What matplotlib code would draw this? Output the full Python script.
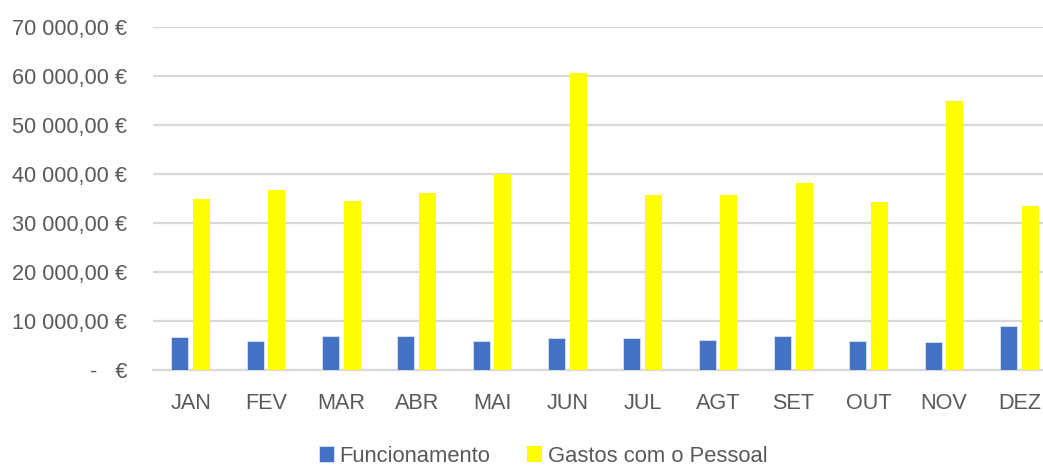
import matplotlib
matplotlib.use("Agg")
import matplotlib.pyplot as plt
import numpy as np
from matplotlib.ticker import FuncFormatter, MultipleLocator

months = ["JAN", "FEV", "MAR", "ABR", "MAI", "JUN", "JUL", "AGT", "SET", "OUT", "NOV", "DEZ"]
funcionamento = [6780, 5950, 7040, 7040, 5950, 6490, 6490, 6220, 7040, 5950, 5670, 9100]
pessoal = [34830, 36670, 34560, 36140, 39950, 60640, 35650, 35650, 38250, 34290, 54830, 33470]
series_names = ["Funcionamento", "Gastos com o Pessoal"]

plt.rcParams['font.family'] = ['Liberation Sans', 'DejaVu Sans']
txt = "#595959"
grid_c = "#D9D9D9"

fig = plt.figure(figsize=(10.43, 4.65), dpi=100)
W, H = 1043, 465
left_px, right_px = 153, 1057
bot_px, top_px = 370.3, 27
ax = fig.add_axes([left_px / W, (H - bot_px) / H, (right_px - left_px) / W, (bot_px - top_px) / H])

x = np.arange(len(months))
bw = 0.226
off = 0.143
ax.bar(x - off, funcionamento, width=bw, color="#4472C4", edgecolor="#DCE3F2", linewidth=0.6,
       label=series_names[0], zorder=3)
ax.bar(x + off, pessoal, width=bw, color="#FFFF00", label=series_names[1], zorder=3)

ax.set_xlim(-0.5, 11.5)
ax.set_ylim(0, 70000)
ax.yaxis.set_major_locator(MultipleLocator(10000))


def fmt(v, pos):
    if abs(v) < 1e-6:
        return "-   €"
    s = f"{v:,.2f}".replace(",", "\u2009X").replace(".", ",").replace("\u2009X", " ")
    return s + " €"


ax.yaxis.set_major_formatter(FuncFormatter(fmt))
ax.set_xticks(x)
ax.set_xticklabels(months)
ax.tick_params(axis="both", length=0, labelsize=15.6, colors=txt)
ax.tick_params(axis="y", pad=18.5)
ax.tick_params(axis="x", pad=16)

ax.grid(axis="y", color=grid_c, linewidth=1.6, zorder=0)
for s in ["top", "right", "left"]:
    ax.spines[s].set_visible(False)
ax.spines["bottom"].set_color(grid_c)
ax.spines["bottom"].set_linewidth(1.6)

handles, labels = ax.get_legend_handles_labels()
fig.legend(handles, labels, loc="center", bbox_to_anchor=(543 / W, (H - 456) / H),
           ncol=2, frameon=False, fontsize=15.8, labelcolor=txt,
           handlelength=0.7, handleheight=0.7, handletextpad=0.25, columnspacing=1.65)

fig.savefig("out.png", dpi=100)
